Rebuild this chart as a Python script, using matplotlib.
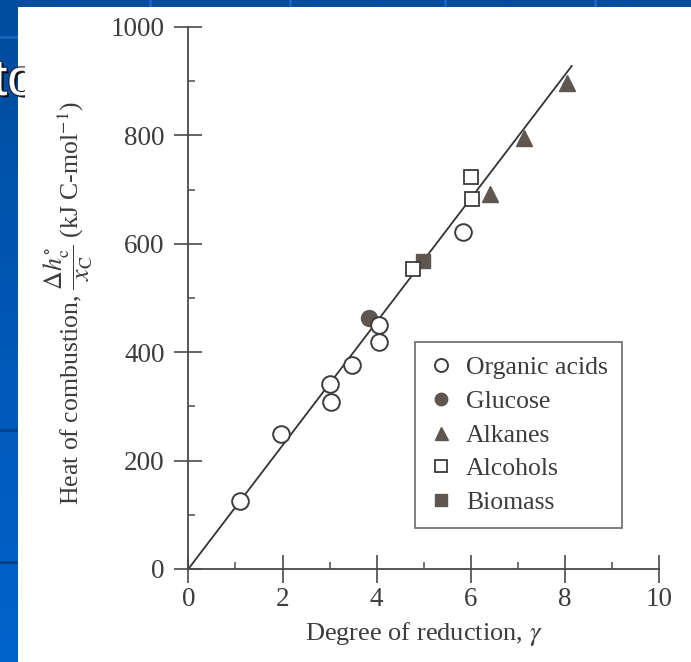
import matplotlib.pyplot as plt
import numpy as np
from matplotlib.patches import Rectangle
import matplotlib.patheffects as pe

# values
acid_x = [1.10, 1.96, 3.01, 3.03, 3.48, 4.05, 4.05, 5.83]
acid_y = [125, 250, 341, 309, 376, 450, 419, 622]
glucose_x = [3.84]
glucose_y = [464]
alkane_x = [6.41, 7.13, 8.05]
alkane_y = [692, 795, 896]
alcohol_x = [4.78, 6.00, 6.02]
alcohol_y = [553, 724, 682]
biomass_x = [4.98]
biomass_y = [569]
fit_x = [0, 8.14]
fit_y = [0, 928]

ink = '#3c3c3c'
fill = '#5e5751'

plt.rcParams['font.family'] = ['Liberation Serif', 'DejaVu Serif']
plt.rcParams['mathtext.fontset'] = 'stix'

W, H = 691, 662
fig = plt.figure(figsize=(W / 100, H / 100), dpi=100)

# blue slide background with gradient
bg = fig.add_axes([0, 0, 1, 1], zorder=-10)
grad = np.linspace(0, 1, 256).reshape(-1, 1)
bg.imshow(grad, aspect='auto', extent=[0, 1, 0, 1], origin='upper',
          cmap=plt.matplotlib.colors.LinearSegmentedColormap.from_list('b', ['#004c9f', '#0063cc']))
for yy in [662 - 37, 662 - 430, 662 - 562]:
    bg.plot([0, 18 / W], [yy / H, yy / H], color='#1a66c0' if yy > 300 else '#00408a', lw=2)
for xx in [150, 290, 445, 595]:
    bg.plot([xx / W, xx / W], [1 - 7 / H, 1], color='#1a66c0', lw=2)
bg.set_xlim(0, 1)
bg.set_ylim(0, 1)
bg.axis('off')

# white scanned panel
fig.patches.append(Rectangle((18 / W, 0), 1 - 18 / W, 1 - 7 / H, transform=fig.transFigure,
                             facecolor='white', edgecolor='none', zorder=-5))

# leftover slide title text, cut by the scan
t = fig.text(-7 / W, 1 - 95 / H, 'to', fontsize=37, color='white', family='Liberation Sans',
             path_effects=[pe.withSimplePatchShadow(offset=(1.5, -1.5), shadow_rgbFace='black', alpha=0.9),
                           pe.Stroke(linewidth=1.6, foreground='#222222'), pe.Normal()])
clip = Rectangle((0, 0), 25 / W, 1, transform=fig.transFigure)
t.set_clip_path(clip)

ax = fig.add_axes([188.3 / W, (H - 569) / H, 471 / W, 542 / H])
ax.plot(fit_x, fit_y, color='#333333', lw=1.3, zorder=1)
ax.plot(acid_x, acid_y, 'o', ms=12, mfc='white', mec=ink, mew=1.4, label='Organic acids', zorder=3)
ax.plot(glucose_x, glucose_y, 'o', ms=11.5, mfc=fill, mec=fill, label='Glucose', zorder=2)
ax.plot(alkane_x, alkane_y, '^', ms=12, mfc=fill, mec=fill, label='Alkanes', zorder=3)
ax.plot(alcohol_x, alcohol_y, 's', ms=10.5, mfc='white', mec=ink, mew=1.3, label='Alcohols', zorder=3)
ax.plot(biomass_x, biomass_y, 's', ms=10.5, mfc=fill, mec=fill, label='Biomass', zorder=2)

ax.set_xlim(0, 10)
ax.set_ylim(0, 1000)
ax.set_facecolor('none')
for s in ['top', 'right']:
    ax.spines[s].set_visible(False)
for s in ['left', 'bottom']:
    ax.spines[s].set_color('#4a4a4a')
    ax.spines[s].set_linewidth(1.3)
ax.spines['left'].set_bounds(0, 1000)
ax.spines['bottom'].set_bounds(0, 10)

ax.set_xticks(range(0, 11, 2))
ax.set_xticks(range(1, 10, 2), minor=True)
ax.set_yticks(range(0, 1001, 200))
ax.set_yticks(range(100, 1000, 200), minor=True)
ax.tick_params(which='major', direction='inout', length=20, width=1.2, color='#4a4a4a',
               labelsize=19.5, labelcolor=ink)
ax.tick_params(axis='y', which='major', pad=7)
ax.tick_params(axis='x', which='major', pad=3)
ax.tick_params(which='minor', direction='in', length=5, width=1.1, color='#4a4a4a')

ax.set_xlabel(r'Degree of reduction, $\gamma$', fontsize=19, color=ink, labelpad=6)
ax.set_ylabel(r'Heat of combustion, $\dfrac{\Delta h^{\circ}_{\mathrm{c}}}{x_{\mathrm{C}}}$ (kJ C-mol$^{-1}$)',
              fontsize=18.5, color=ink)
ax.yaxis.set_label_coords(-0.198, 0.49)

leg = ax.legend(loc='upper left', bbox_to_anchor=(0.481, 0.419), borderaxespad=0,
                fancybox=False, edgecolor='#444444', fontsize=18.5, labelcolor=ink,
                handlelength=0.9, handletextpad=0.55, labelspacing=0.42, borderpad=0.55,
                markerscale=0.78, numpoints=1)
leg.get_frame().set_linewidth(1.2)

fig.savefig('out.png', dpi=100)
